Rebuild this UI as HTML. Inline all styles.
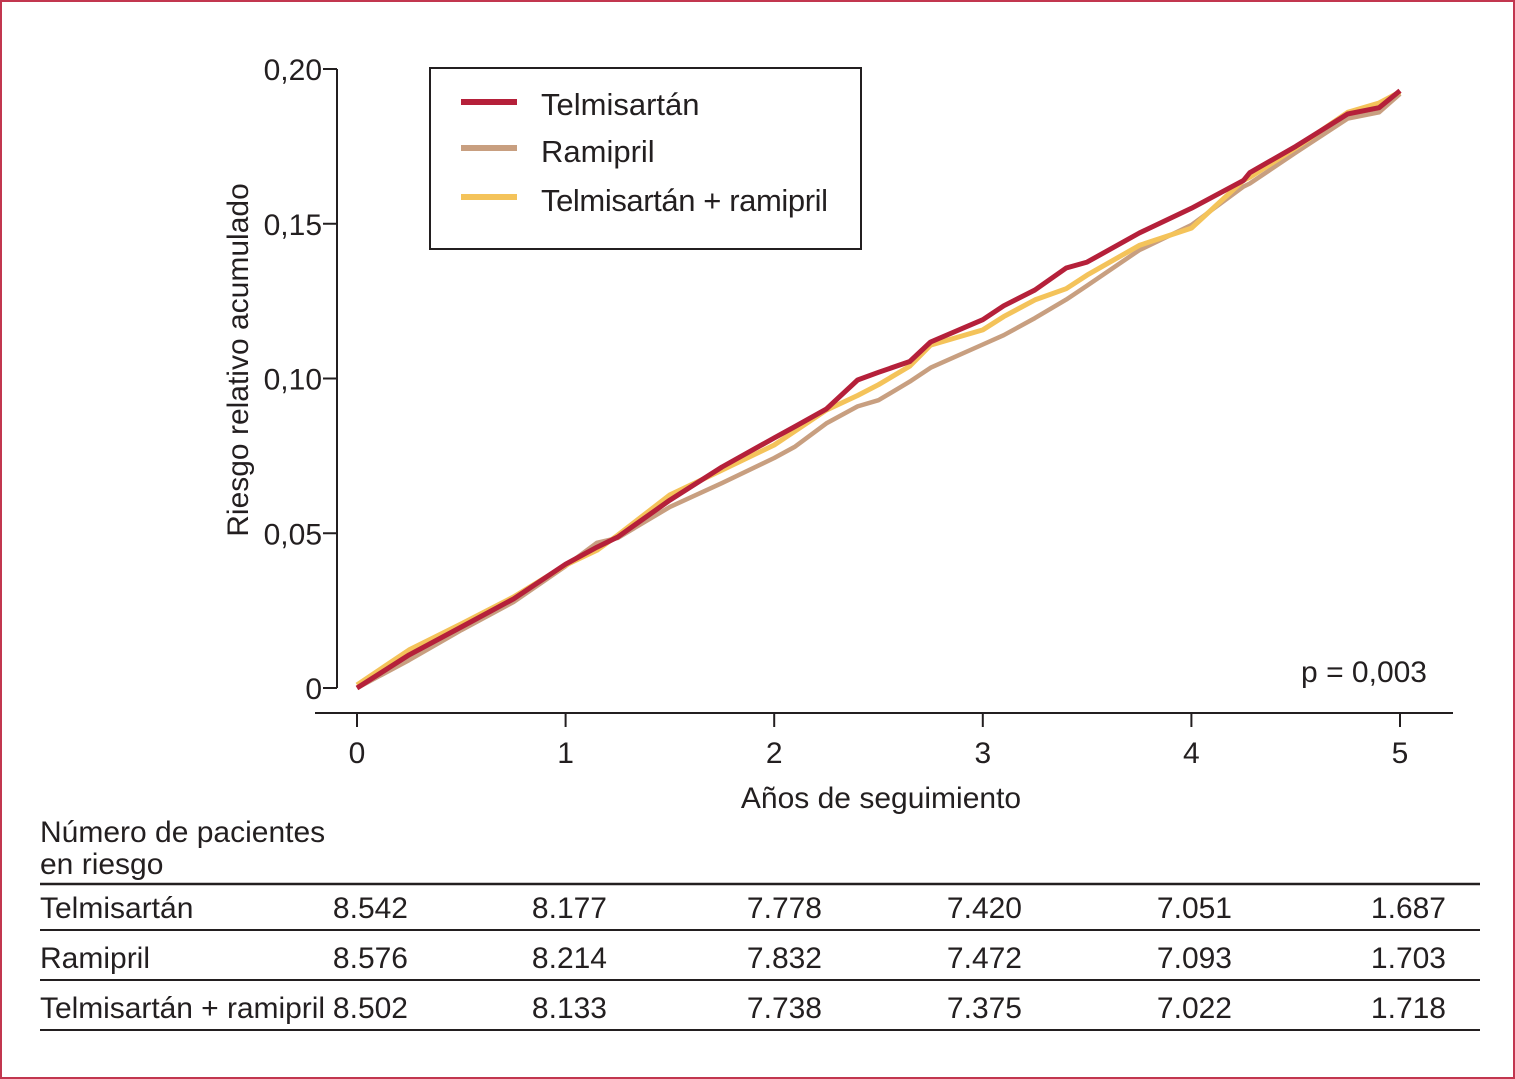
<!DOCTYPE html>
<html><head><meta charset="utf-8"><style>
html,body{margin:0;padding:0;background:#fff}
svg{display:block;font-family:"Liberation Sans",sans-serif;fill:#231f20}
</style></head><body>
<svg id="chart" width="1515" height="1079" viewBox="0 0 1515 1079">
<rect x="1" y="1" width="1513" height="1077" fill="none" stroke="#c2364f" stroke-width="2"/>
<g id="axes"></g>
<g id="series"></g>
<g>
<rect x="430" y="68" width="431" height="181" fill="#fff" stroke="#231f20" stroke-width="2"/>
<line x1="461" y1="102" x2="517" y2="102" stroke="#b5203a" stroke-width="6"/>
<text x="541" y="115" font-size="31">Telmisartán</text>
<line x1="461" y1="148" x2="517" y2="148" stroke="#c89f80" stroke-width="6"/>
<text x="541" y="162" font-size="31">Ramipril</text>
<line x1="461" y1="197" x2="517" y2="197" stroke="#f4c35a" stroke-width="6"/>
<text x="541" y="211" font-size="31" textLength="287">Telmisartán + ramipril</text>
</g>
<text x="1427" y="682" font-size="30" text-anchor="end">p = 0,003</text>
<text x="881" y="808" font-size="30" text-anchor="middle">Años de seguimiento</text>
<text transform="translate(248,360) rotate(-90)" font-size="30" text-anchor="middle">Riesgo relativo acumulado</text>
<g font-size="30">
<text x="40" y="842">Número de pacientes</text>
<text x="40" y="874">en riesgo</text>
<line x1="40" y1="884" x2="1480" y2="884" stroke="#231f20" stroke-width="2.5"/>
<line x1="40" y1="930" x2="1480" y2="930" stroke="#231f20" stroke-width="2"/>
<line x1="40" y1="980" x2="1480" y2="980" stroke="#231f20" stroke-width="2"/>
<line x1="40" y1="1030" x2="1480" y2="1030" stroke="#231f20" stroke-width="2"/>
<g id="tablerows"></g>
</g>
</svg>
<script>
const years = [0,0.25,0.5,0.75,1,1.15,1.25,1.5,1.75,2,2.1,2.25,2.4,2.5,2.65,2.75,3,3.1,3.25,3.4,3.5,3.75,4,4.25,4.28,4.5,4.75,4.9,5];
const telmisartan = [0,0.0107,0.0197,0.0288,0.040,0.0455,0.0488,0.0607,0.0714,0.0808,0.0845,0.0901,0.0995,0.102,0.1055,0.1118,0.119,0.1235,0.1286,0.1357,0.1376,0.147,0.155,0.164,0.1665,0.175,0.1855,0.1875,0.193];
const ramipril = [0,0.009,0.0187,0.0278,0.0394,0.0469,0.0485,0.0585,0.0662,0.0743,0.078,0.0855,0.091,0.093,0.099,0.1035,0.111,0.114,0.1195,0.1255,0.13,0.1415,0.1496,0.162,0.163,0.173,0.184,0.186,0.192];
const combo = [0.001,0.0123,0.0207,0.0294,0.0397,0.0445,0.0494,0.0624,0.0704,0.0785,0.083,0.0898,0.0945,0.098,0.104,0.1108,0.1157,0.12,0.1254,0.129,0.1334,0.143,0.1486,0.164,0.165,0.1745,0.186,0.189,0.1926];
const yTicks = [0,0.05,0.10,0.15,0.20];
const yTickLabels = ["0","0,05","0,10","0,15","0,20"];
const xTicks = [0,1,2,3,4,5];
const rowNames = ["Telmisartán","Ramipril","Telmisartán + ramipril"];
const rowTelmisartan = ["8.542","8.177","7.778","7.420","7.051","1.687"];
const rowRamipril = ["8.576","8.214","7.832","7.472","7.093","1.703"];
const rowCombo = ["8.502","8.133","7.738","7.375","7.022","1.718"];

const NS="http://www.w3.org/2000/svg";
const xS = t => 357 + t*208.6;
const yS = v => 688 - v*3095;
function mk(tag, attrs, parent){const e=document.createElementNS(NS,tag);for(const k in attrs)e.setAttribute(k,attrs[k]);parent.appendChild(e);return e;}
const axes=document.getElementById('axes');
let a=mk('line',{x1:337,y1:yS(0.2),x2:337,y2:688,stroke:'#231f20','stroke-width':2},axes);


a=mk('line',{x1:315,y1:713,x2:1453,y2:713,stroke:'#231f20','stroke-width':2},axes);


yTicks.forEach((v,i)=>{
  const tk=mk('line',{x1:323,y1:yS(v),x2:337,y2:yS(v),stroke:'#231f20','stroke-width':2},axes);
  
  
  const t=mk('text',{x:322,y:yS(v)+11,'font-size':30,'text-anchor':'end'},axes);
  t.textContent=yTickLabels[i];
  
  
});
xTicks.forEach(v=>{
  const tk=mk('line',{x1:xS(v),y1:713,x2:xS(v),y2:727,stroke:'#231f20','stroke-width':2},axes);
  
  
  const t=mk('text',{x:xS(v),y:763,'font-size':30,'text-anchor':'middle'},axes);
  t.textContent=String(v);
  
  
});
const ser=document.getElementById('series');
[[ramipril,'#c89f80',4.5,'line-ramipril'],[combo,'#f4c35a',5,'line-telmisartan-ramipril'],[telmisartan,'#b5203a',5,'line-telmisartan']].forEach(s=>{
  const d=s[0].map((v,i)=>(i?'L':'M')+xS(years[i]).toFixed(1)+' '+yS(v).toFixed(1)).join(' ');
  const p=mk('path',{d:d,fill:'none',stroke:s[1],'stroke-width':s[2],'stroke-linejoin':'round'},ser);
  
  
});
const tr=document.getElementById('tablerows');
const colX=[408,607,822,1022,1232,1446];
[rowTelmisartan,rowRamipril,rowCombo].forEach((row,r)=>{
  const y=918+r*50;
  const n=mk('text',{x:40,y:y},tr);
  n.textContent=rowNames[r];
  if(r===2) n.setAttribute('textLength','285');
  
  
  row.forEach((val,i)=>{
    const c=mk('text',{x:colX[i],y:y,'text-anchor':'end'},tr);
    c.textContent=val;
    
    
  });
});
</script>
</body></html>
